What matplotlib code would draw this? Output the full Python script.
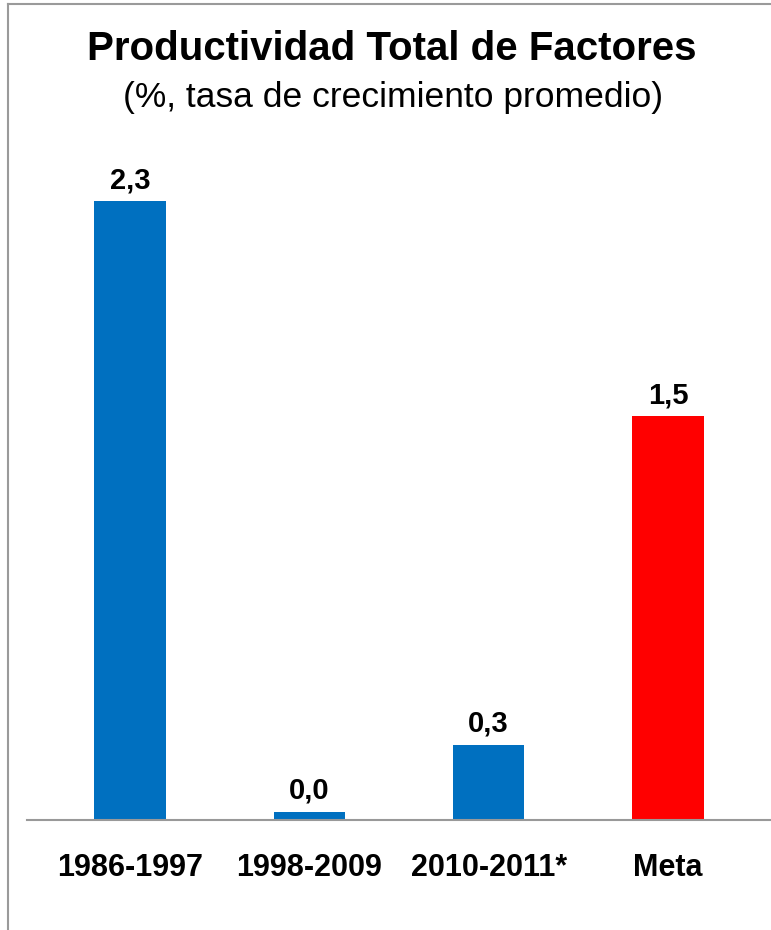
import matplotlib
matplotlib.use("Agg")
import matplotlib.pyplot as plt
from matplotlib.lines import Line2D

categories = ["1986-1997", "1998-2009", "2010-2011*", "Meta"]
values = [2.3, 0.03, 0.28, 1.5]
labels = ["2,3", "0,0", "0,3", "1,5"]
colors = ["#0070C0", "#0070C0", "#0070C0", "#FF0000"]

plt.rcParams['font.family'] = ['Liberation Sans', 'DejaVu Sans']

W, H = 771, 930
fig = plt.figure(figsize=(W / 100, H / 100), dpi=100)

# axes: bottom at y=820px, top at 160px, x from 27 to 771
ax_bottom = 820
ax_top = 160
ax = fig.add_axes([27 / W, 1 - ax_bottom / H, (771 - 27) / W, (ax_bottom - ax_top) / H])
scale = 269.0
ax.set_ylim(0, (ax_bottom - ax_top) / scale)
ax.set_xlim(-0.575, 3.575)

x = range(len(categories))
bars = ax.bar(x, values, width=0.4, color=colors, zorder=2)
for xi, v, lab in zip(x, values, labels):
    ax.annotate(lab, (xi, v), xytext=(0, 5), textcoords="offset points",
                ha="center", va="bottom", fontsize=21, fontweight="bold")

for s in ["top", "right", "left"]:
    ax.spines[s].set_visible(False)
ax.spines["bottom"].set_color("#999999")
ax.spines["bottom"].set_linewidth(1.5)
ax.set_yticks([])
ax.set_xticks(list(x))
ax.set_xticklabels(categories, fontsize=22, fontweight="bold")
ax.tick_params(axis="x", length=0, pad=24)

fig.text(392 / W, 1 - 49 / H, "Productividad Total de Factores", ha="center", va="center",
         fontsize=29, fontweight="bold")
fig.text(393 / W, 1 - 98 / H, "(%, tasa de crecimiento promedio)", ha="center", va="center",
         fontsize=25.5)

# partial chart border (top and left)
fig.add_artist(Line2D([8 / W, 8 / W], [0, 1 - 4 / H], color="#9a9a9a", lw=1.5, transform=fig.transFigure))
fig.add_artist(Line2D([8 / W, 1], [1 - 4 / H, 1 - 4 / H], color="#9a9a9a", lw=1.5, transform=fig.transFigure))

fig.savefig("out.png", dpi=100)
